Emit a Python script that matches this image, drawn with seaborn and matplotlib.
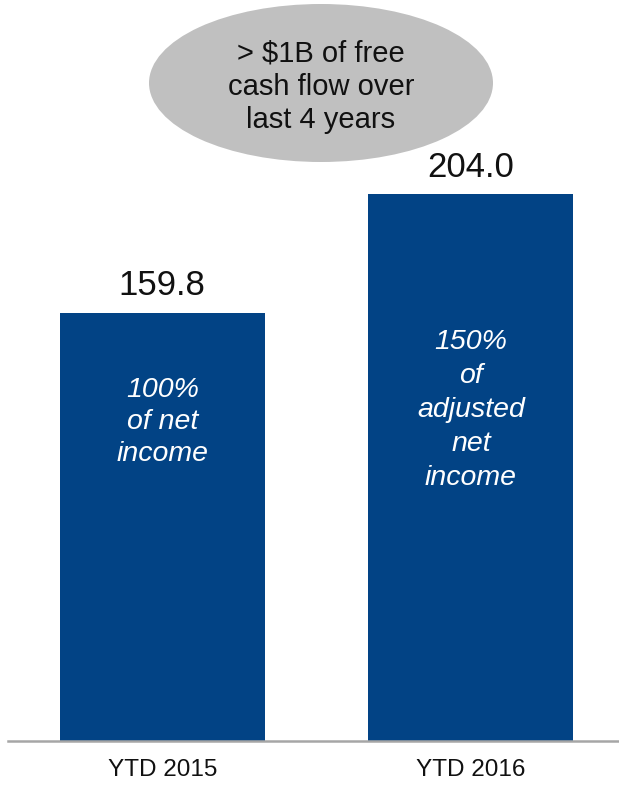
import matplotlib
matplotlib.use("Agg")
import matplotlib.pyplot as plt
from matplotlib.patches import Ellipse
import seaborn as sns
import pandas as pd

categories = ["YTD 2015", "YTD 2016"]
values = [159.8, 204.0]
value_labels = ["159.8", "204.0"]
inner_texts = ["100%\nof net\nincome", "150%\nof\nadjusted\nnet\nincome"]
bubble_text = "> $1B of free\ncash flow over\nlast 4 years"

sns.set_theme(style="white")
plt.rcParams["font.family"] = ["Liberation Sans", "DejaVu Sans"]

W, H = 619, 786
fig = plt.figure(figsize=(W / 100, H / 100), dpi=100)
ax = fig.add_axes([8 / W, (H - 741) / H, 1 - 8 / W, 741 / H])

df = pd.DataFrame({"cat": categories, "val": values})
sns.barplot(data=df, x="cat", y="val", color="#024385", saturation=1,
            width=0.665, ax=ax, edgecolor="none")

ax.set_xlim(-0.5, 1.48)
ax.set_ylim(0, 741 / (547 / 204.0))

for s in ["top", "right", "left"]:
    ax.spines[s].set_visible(False)
ax.spines["bottom"].set_color("#a6a6a6")
ax.spines["bottom"].set_linewidth(1.8)
ax.set_yticks([])
ax.set_xlabel("")
ax.set_ylabel("")
ax.tick_params(axis="x", length=0, pad=13, labelsize=17.5, labelcolor="#111111")

for i, (v, lab) in enumerate(zip(values, value_labels)):
    ax.text(i, v + 3.8, lab, ha="center", va="bottom", fontsize=25,
            color="#111111")

inner_y = [119.0, 123.5]
inner_ls = [1.3, 1.4]
for i, t in enumerate(inner_texts):
    ax.text(i, inner_y[i], t, ha="center", va="center", fontsize=20.5,
            style="italic", color="white", linespacing=inner_ls[i])

ell = Ellipse((321 / W, 1 - 83 / H), 344 / W, 158 / H,
              transform=fig.transFigure, facecolor="#c0c0c0",
              edgecolor="none", zorder=5)
fig.patches.append(ell)
fig.text(321 / W, 1 - 87 / H, bubble_text, ha="center", va="center",
         fontsize=21, color="#111111", linespacing=1.25, zorder=6)

fig.savefig("out.png", dpi=100, facecolor="white")
